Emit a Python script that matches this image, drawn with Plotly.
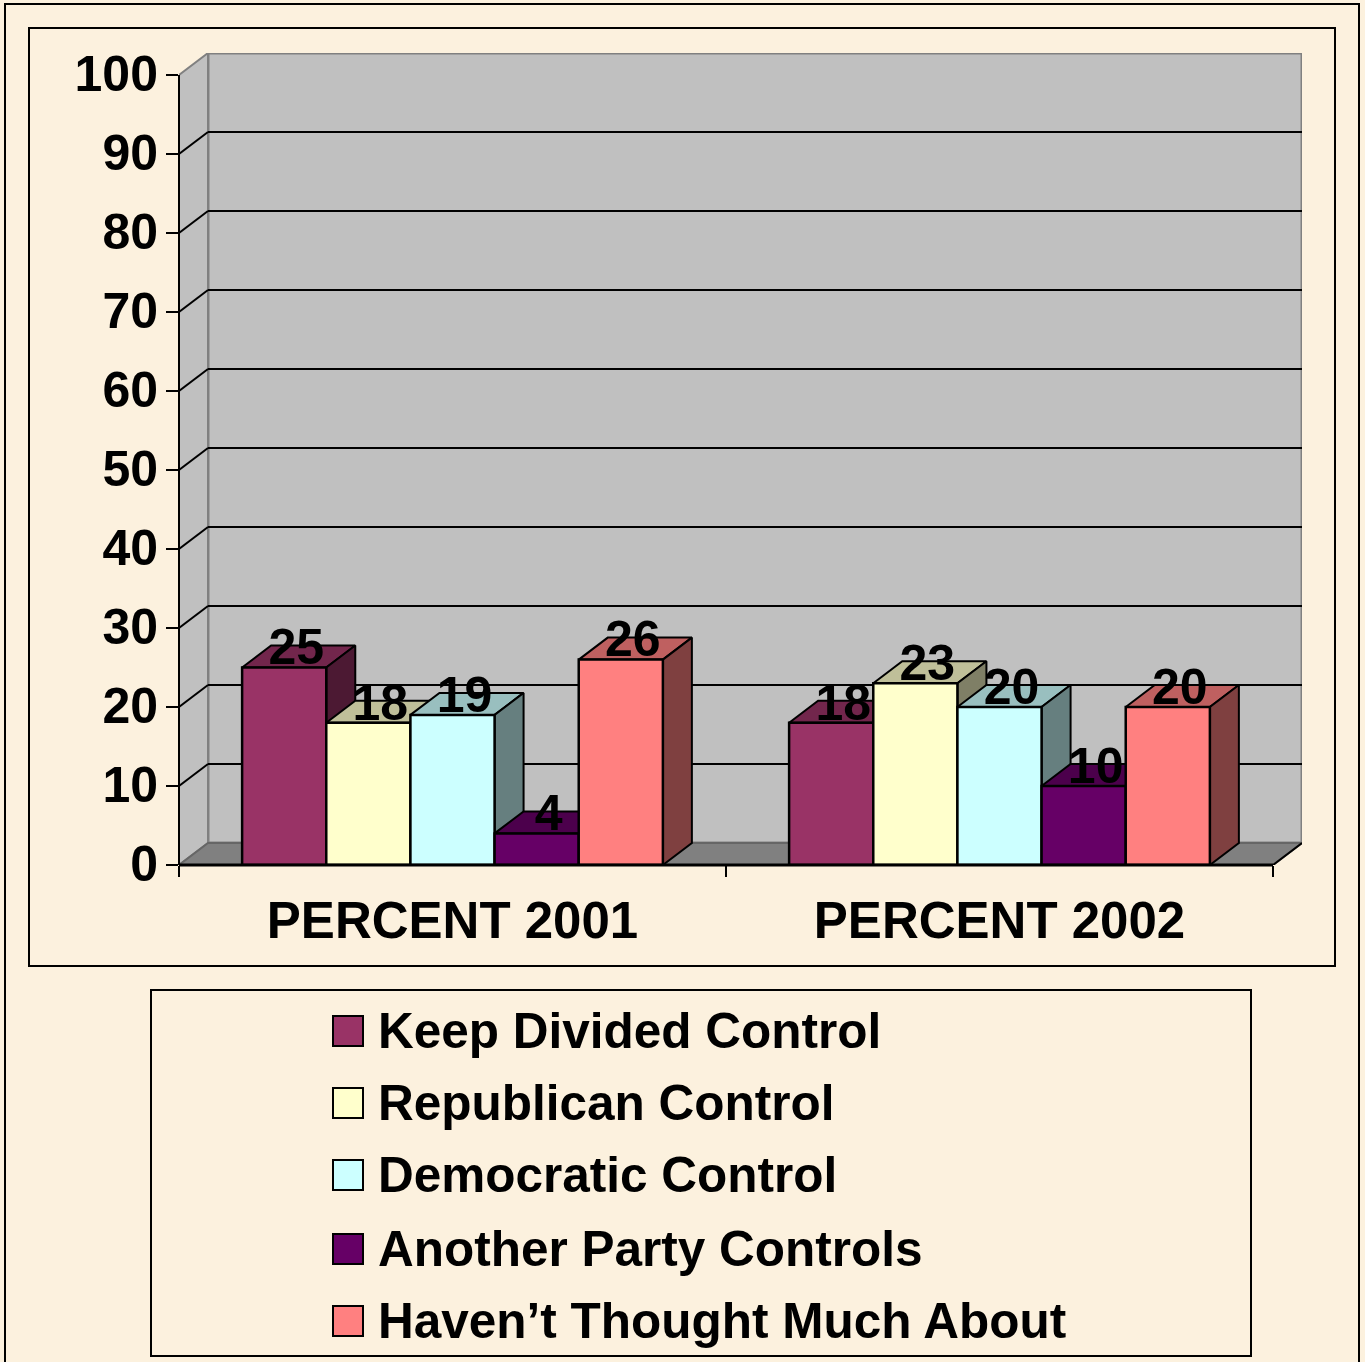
import plotly.graph_objects as go

categories = ["PERCENT 2001", "PERCENT 2002"]
series_names = [
    "Keep Divided Control",
    "Republican Control",
    "Democratic Control",
    "Another Party Controls",
    "Haven’t Thought Much About",
]
series_values = [
    [25, 18],
    [18, 23],
    [19, 20],
    [4, 10],
    [26, 20],
]
series_colors = ["#993366", "#FFFFCC", "#CCFFFF", "#660066", "#FF8080"]
y_ticks = [0, 10, 20, 30, 40, 50, 60, 70, 80, 90, 100]

BG = "#FCF1DE"
FONT = "Liberation Sans"

# pixel frame of the plot: front plane plus the fake 3d depth
LEFT, RIGHT, TOP, BOTTOM = 179, 1302, 53, 865
GROUP_PX = 547
UNIT_PX = 7.9
DX = 29 / GROUP_PX
DY = 22 / UNIT_PX
X_MAX = len(categories) + DX
Y_MAX = 100 + DY
GAP = 1.5
BAR_W = 1 / (len(series_names) + GAP)


def px_x(px):
    return (px - LEFT) / (RIGHT - LEFT)


def px_y(py):
    return (BOTTOM - py) / (BOTTOM - TOP)


def shade(color, factor):
    r, g, b = [int(color[i:i + 2], 16) for i in (1, 3, 5)]
    return f"rgb({int(r * factor)},{int(g * factor)},{int(b * factor)})"


def polygon(xs, ys, fill):
    return go.Scatter(
        x=xs + xs[:1], y=ys + ys[:1], mode="lines", fill="toself", fillcolor=fill,
        line=dict(color="black", width=2), hoverinfo="skip", showlegend=False,
    )


def frame(x0, y0, x1, y1, fill=None):
    return dict(
        type="rect", xref="paper", yref="paper", layer="below",
        x0=px_x(x0), x1=px_x(x1), y0=px_y(y0), y1=px_y(y1),
        line=dict(color="black", width=2), fillcolor=fill or "rgba(0,0,0,0)",
    )


def path_shape(points, fill, line_color, width=2):
    d = "M " + " L ".join(f"{x} {y}" for x, y in points) + " Z"
    return dict(type="path", path=d, layer="below", fillcolor=fill,
                line=dict(color=line_color, width=width))


def seg(x0, y0, x1, y1, color="black", width=2, layer="below"):
    return dict(type="line", x0=x0, y0=y0, x1=x1, y1=y1, layer=layer,
                line=dict(color=color, width=width))


fig = go.Figure()

# tops and sides, left to right so the later ones cover the earlier ones
for g in range(len(categories)):
    for s, name in enumerate(series_names):
        v = series_values[s][g]
        x0 = g + 0.5 + (s - len(series_names) / 2) * BAR_W
        x1 = x0 + BAR_W
        fig.add_trace(polygon([x0, x1, x1 + DX, x0 + DX], [v, v, v + DY, v + DY],
                              shade(series_colors[s], 0.75)))
        fig.add_trace(polygon([x1, x1, x1 + DX, x1 + DX], [0, v, v + DY, DY],
                              shade(series_colors[s], 0.5)))

# front faces on an overlaid subplot so they sit above the polygons
group_centers = [g + 0.5 for g in range(len(categories))]
for s, name in enumerate(series_names):
    fig.add_trace(go.Bar(
        x=group_centers, y=series_values[s], name=name, xaxis="x2", yaxis="y2",
        marker=dict(color=series_colors[s], line=dict(color="black", width=2.5)),
        showlegend=False,
    ))

# value labels
for s in range(len(series_names)):
    fig.add_trace(go.Scatter(
        x=[c + (s - 2) * BAR_W + 12 / GROUP_PX for c in group_centers],
        y=[v + 2.0 for v in series_values[s]],
        text=[str(v) for v in series_values[s]],
        mode="text", textposition="middle center",
        textfont=dict(family=FONT, size=50, color="black", weight=700),
        xaxis="x2", yaxis="y2", hoverinfo="skip", showlegend=False,
    ))

shapes = [
    frame(5, 4, 1359, 1375),
    frame(29, 28, 1335, 966),
    frame(151, 990, 1251, 1356),
    # walls and floor
    path_shape([(DX, DY), (X_MAX, DY), (X_MAX, Y_MAX), (DX, Y_MAX)], "#C0C0C0", "#808080", 3),
    path_shape([(0, 0), (DX, DY), (DX, Y_MAX), (0, 100)], "#C0C0C0", "#808080", 2),
    path_shape([(0, 0), (len(categories), 0), (X_MAX, DY), (DX, DY)], "#808080", "#666666", 2),
]
for t in y_ticks[1:-1]:
    shapes.append(seg(DX, t + DY, X_MAX, t + DY))
    shapes.append(seg(0, t, DX, t + DY))
shapes.append(seg(len(categories), 0, X_MAX, DY))
# front axis lines in paper coordinates, a data shape would get clipped at the edge
shapes.append(dict(type="line", xref="paper", yref="paper", layer="above",
                   x0=0, x1=0, y0=0, y1=px_y(75), line=dict(color="black", width=2)))
shapes.append(dict(type="line", xref="paper", yref="paper", layer="above",
                   x0=0, x1=px_x(1273), y0=0, y1=0, line=dict(color="black", width=3)))

annotations = []
legend_centers = [1031, 1103, 1175, 1249, 1321]
for name, color, cy in zip(series_names, series_colors, legend_centers):
    shapes.append(dict(
        type="rect", xref="paper", yref="paper", layer="above",
        x0=px_x(333), x1=px_x(363), y0=px_y(cy - 15), y1=px_y(cy + 15),
        fillcolor=color, line=dict(color="black", width=2),
    ))
    annotations.append(dict(
        text=name, xref="paper", yref="paper", x=px_x(376), y=px_y(cy - 1),
        xanchor="left", yanchor="middle", showarrow=False,
        font=dict(family=FONT, size=49.5, color="black", weight=700),
    ))

axis_font = dict(family=FONT, size=50, color="black", weight=700)
fig.update_layout(
    width=1365, height=1362, autosize=False,
    margin=dict(l=LEFT, r=1365 - RIGHT, t=TOP, b=1362 - BOTTOM, pad=0),
    paper_bgcolor=BG, plot_bgcolor="rgba(0,0,0,0)",
    barmode="group", bargap=GAP / (len(series_names) + GAP), bargroupgap=0,
    showlegend=False, shapes=shapes, annotations=annotations,
    xaxis=dict(
        range=[0, X_MAX], showgrid=False, zeroline=False, showline=False,
        tickmode="array", tickvals=group_centers, ticktext=categories, ticks="",
        tickfont=dict(family=FONT, size=51, color="black", weight=700), ticklabelstandoff=21,
        minor=dict(tickmode="array", tickvals=[0, 1, 2], ticks="outside",
                   ticklen=11, tickwidth=2, tickcolor="black", showgrid=False),
    ),
    yaxis=dict(
        range=[0, Y_MAX], showgrid=False, zeroline=False, showline=False,
        tickmode="array", tickvals=y_ticks, ticks="outside", ticklen=12,
        tickwidth=2, tickcolor="black", tickfont=axis_font, ticklabelstandoff=-2,
        ticklabelshift=-2,
    ),
    xaxis2=dict(range=[0, X_MAX], overlaying="x", visible=False),
    yaxis2=dict(range=[0, Y_MAX], overlaying="y", visible=False),
)

fig.write_html("out.html", config={"displayModeBar": False},
               post_script="document.body.style.margin='0';")
